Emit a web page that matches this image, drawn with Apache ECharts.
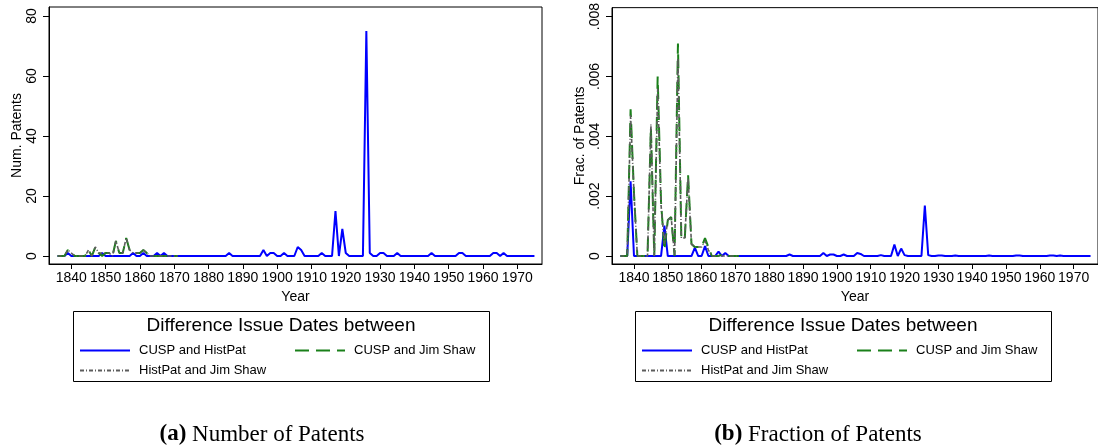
<!DOCTYPE html>
<html>
<head>
<meta charset="utf-8">
<script src="https://cdn.jsdelivr.net/npm/echarts@6/dist/echarts.min.js"></script>
<style>
html,body{margin:0;padding:0;background:#fff;}
#chart{width:1098px;height:448px;}
</style>
</head>
<body>
<div id="chart"></div>
<script>
// ---- data ----
const startYear = 1836; // first year of every series
const seriesNames = ['CUSP and HistPat', 'CUSP and Jim Shaw', 'HistPat and Jim Shaw'];

// (a) number of patents, CUSP vs HistPat, 1836-1975
const blueCount = [
  0,0,0,1,
  0,0,0,0,0,0,0,0,0,1,
  0,0,0,0,0,0,0,0,1,0,
  0,1,0,0,0,1,0,1,0,0,
  0,0,0,0,0,0,0,0,0,0,
  0,0,0,0,0,0,1,0,0,0,
  0,0,0,0,0,0,2,0,1,1,
  0,0,1,0,0,0,3,2,0,0,
  0,0,0,1,0,0,0,15,0,9,
  1,0,0,0,0,0,75,1,0,0,
  1,1,0,0,0,1,0,0,0,0,
  0,0,0,0,0,1,0,0,0,0,
  0,0,0,1,1,0,0,0,0,0,
  0,0,0,1,1,0,1,0,0,0,
  0,0,0,0,0,0
];
// (a) CUSP vs Jim Shaw, 1836-1871
const greenCount = [
  0,0,0,2,
  1,0,0,0,0,2,0,3,1,0,
  1,1,0,5,1,1,6,2,1,1,
  1,2,1,0,0,0,0,0,0,0,
  0,0
];
// (a) HistPat vs Jim Shaw, 1836-1871
const grayCount = [
  0,0,0,2,
  1,0,0,0,0,2,0,3,1,1,
  1,1,0,5,1,1,6,2,1,1,
  1,2,1,0,0,0,0,0,0,0,
  0,0
];
// (b) fraction of patents, CUSP vs HistPat, 1836-1975
const blueFrac = [
  0,0,0,0.0025,
  0,0,0,0,0,0,0,0,0,0.00102,
  0,0,0,0,0,0,0,0,0.00028,0,
  0,0.00033,0,0,0,0.00015,0,0.0001,0,0,
  0,0,0,0,0,0,0,0,0,0,
  0,0,0,0,0,0,0.00005,0,0,0,
  0,0,0,0,0,0,0.0001,0,0.00005,0.00005,
  0,0,0.00005,0,0,0,0.0001,0.00007,0,0,
  0,0,0,0.00003,0,0,0,0.00038,0,0.00025,
  0.00003,0,0,0,0,0,0.00169,0.00003,0,0,
  0.00002,0.00002,0,0,0,0.00002,0,0,0,0,
  0,0,0,0,0,0.00002,0,0,0,0,
  0,0,0,0.00002,0.00002,0,0,0,0,0,
  0,0,0,0.00002,0.00002,0,0.00002,0,0,0,
  0,0,0,0,0,0
];
// (b) CUSP vs Jim Shaw, 1836-1871
const greenFrac = [
  0,0,0,0.0049,
  0.0021,0,0,0,0,0.0043,0,0.0060,0.0018,0.0002,
  0.0012,0.0013,0,0.0071,0.0006,0.00055,0.0027,0.0004,0.0003,0.0003,
  0.0003,0.0006,0.0003,0,0,0,0.00005,0,0,0,
  0,0
];
// (b) HistPat vs Jim Shaw, 1836-1871
const grayFrac = [
  0,0,0,0.0047,
  0.0021,0,0,0,0,0.0044,0,0.0056,0.0017,0.0004,
  0.0012,0.0013,0,0.0066,0.0006,0.0006,0.0026,0.0004,0.0003,0.0003,
  0.0003,0.0005,0.0002,0,0,0,0,0,0,0,
  0,0
];

// tick values / labels
const xTicks = [1840,1850,1860,1870,1880,1890,1900,1910,1920,1930,1940,1950,1960,1970];
const yTicksCount = [0,20,40,60,80];
const yTicksFrac = [0,0.002,0.004,0.006,0.008];
const yLabelsFrac = ['0','.002','.004','.006','.008'];

// ---- chart ----
function pairs(arr){ return arr.map((v,i)=>[startYear+i, v]); }

const SANS = 'Liberation Sans, Arial, sans-serif';
const SERIF = 'Liberation Serif, Times New Roman, serif';
const lineColors = ['#0000ff', '#1a801a', '#5c5c5c'];
const lineStyles = [
  {color: lineColors[0], width: 2, type: 'solid'},
  {color: lineColors[1], width: 2, type: [14, 7]},
  {color: lineColors[2], width: 1.6, type: [4, 2, 1, 2]}
];

function xAxisCfg(gi){
  return {
    gridIndex: gi, type: 'value', min: 1833.5, max: 1977.2,
    axisLine: {show: true, onZero: false, lineStyle: {color: '#000', width: 1}},
    axisTick: {show: true, length: 5, customValues: xTicks, lineStyle: {color: '#000'}},
    axisLabel: {customValues: xTicks, margin: 7, fontSize: 14, color: '#000', fontFamily: SANS, formatter: v => String(v)},
    splitLine: {show: false},
    name: 'Year', nameLocation: 'middle', nameGap: 21,
    nameTextStyle: {fontSize: 14, color: '#000', fontFamily: SANS}
  };
}
function yAxisCfg(gi, min, max, ticks, name, fmt){
  return {
    gridIndex: gi, type: 'value', min: min, max: max,
    axisLine: {show: true, onZero: false, lineStyle: {color: '#000', width: 1}},
    axisTick: {show: true, length: 6, customValues: ticks, lineStyle: {color: '#000'}},
    axisLabel: {customValues: ticks, rotate: 90, margin: 10, fontSize: 14, color: '#000', fontFamily: SANS, formatter: fmt},
    splitLine: {show: false},
    name: name, nameLocation: 'middle', nameRotate: 90, nameGap: 25,
    nameTextStyle: {fontSize: 14, color: '#000', fontFamily: SANS}
  };
}
function lineSeries(name, idx, xi, data){
  return {
    name: name, type: 'line', xAxisIndex: xi, yAxisIndex: xi,
    data: pairs(data), symbol: 'none', showSymbol: false, smooth: false,
    lineStyle: lineStyles[idx], itemStyle: {color: lineColors[idx]},
    z: 2 + idx, silent: true
  };
}
function legendCfg(name, left, top){
  return {
    data: [name], left: left, top: top, orient: 'horizontal', padding: 0,
    itemWidth: 50, itemHeight: 12, selectedMode: false,
    itemStyle: {opacity: 0},
    textStyle: {fontSize: 13, color: '#000', fontFamily: SANS, padding: [0,0,0,4]}
  };
}

const OFF = 562; // horizontal offset of panel (b)

const option = {
  animation: false,
  backgroundColor: '#fff',
  grid: [
    {left: 49, top: 7, width: 493, height: 257, show: true, borderColor: '#000', borderWidth: 1, backgroundColor: 'transparent'},
    {left: 49 + OFF + 1, top: 7, width: 493, height: 257, show: true, borderColor: '#000', borderWidth: 1, backgroundColor: 'transparent'}
  ],
  xAxis: [xAxisCfg(0), xAxisCfg(1)],
  yAxis: [
    yAxisCfg(0, -8/3, 83, yTicksCount, 'Num. Patents', v => String(v)),
    yAxisCfg(1, -0.0002667, 0.0083, yTicksFrac, 'Frac. of Patents', v => yLabelsFrac[yTicksFrac.findIndex(t => Math.abs(t - v) < 1e-9)] || '')
  ],
  series: [
    lineSeries(seriesNames[0], 0, 0, blueCount),
    lineSeries(seriesNames[1], 1, 0, greenCount),
    lineSeries(seriesNames[2], 2, 0, grayCount),
    lineSeries(seriesNames[0], 0, 1, blueFrac),
    lineSeries(seriesNames[1], 1, 1, greenFrac),
    lineSeries(seriesNames[2], 2, 1, grayFrac)
  ],
  legend: [
    legendCfg(seriesNames[0], 79, 344),
    legendCfg(seriesNames[1], 294, 344),
    legendCfg(seriesNames[2], 79, 364),
    legendCfg(seriesNames[0], 79 + OFF, 344),
    legendCfg(seriesNames[1], 294 + OFF, 344),
    legendCfg(seriesNames[2], 79 + OFF, 364)
  ],
  title: [
    {text: 'Difference Issue Dates between', left: 281, top: 316, textAlign: 'center', padding: 0,
     textStyle: {fontSize: 19, fontWeight: 'normal', color: '#000', fontFamily: SANS}},
    {text: 'Difference Issue Dates between', left: 281 + OFF, top: 316, textAlign: 'center', padding: 0,
     textStyle: {fontSize: 19, fontWeight: 'normal', color: '#000', fontFamily: SANS}},
    {text: '{b|(a)} Number of Patents', left: 262, top: 423, textAlign: 'center', padding: 0,
     textStyle: {fontSize: 23, fontWeight: 'normal', color: '#000', fontFamily: SERIF,
       rich: {b: {fontSize: 23, fontWeight: 'bold', color: '#000', fontFamily: SERIF}}}},
    {text: '{b|(b)} Fraction of Patents', left: 818, top: 423, textAlign: 'center', padding: 0,
     textStyle: {fontSize: 23, fontWeight: 'normal', color: '#000', fontFamily: SERIF,
       rich: {b: {fontSize: 23, fontWeight: 'bold', color: '#000', fontFamily: SERIF}}}}
  ],
  graphic: [
    {type: 'rect', shape: {x: 73.5, y: 311.5, width: 416, height: 70}, style: {fill: 'none', stroke: '#000', lineWidth: 1}, silent: true},
    {type: 'rect', shape: {x: 73.5 + OFF, y: 311.5, width: 416, height: 70}, style: {fill: 'none', stroke: '#000', lineWidth: 1}, silent: true}
  ]
};

const chart = echarts.init(document.getElementById('chart'), null, {renderer: 'canvas'});
chart.setOption(option);
</script>
</body>
</html>
